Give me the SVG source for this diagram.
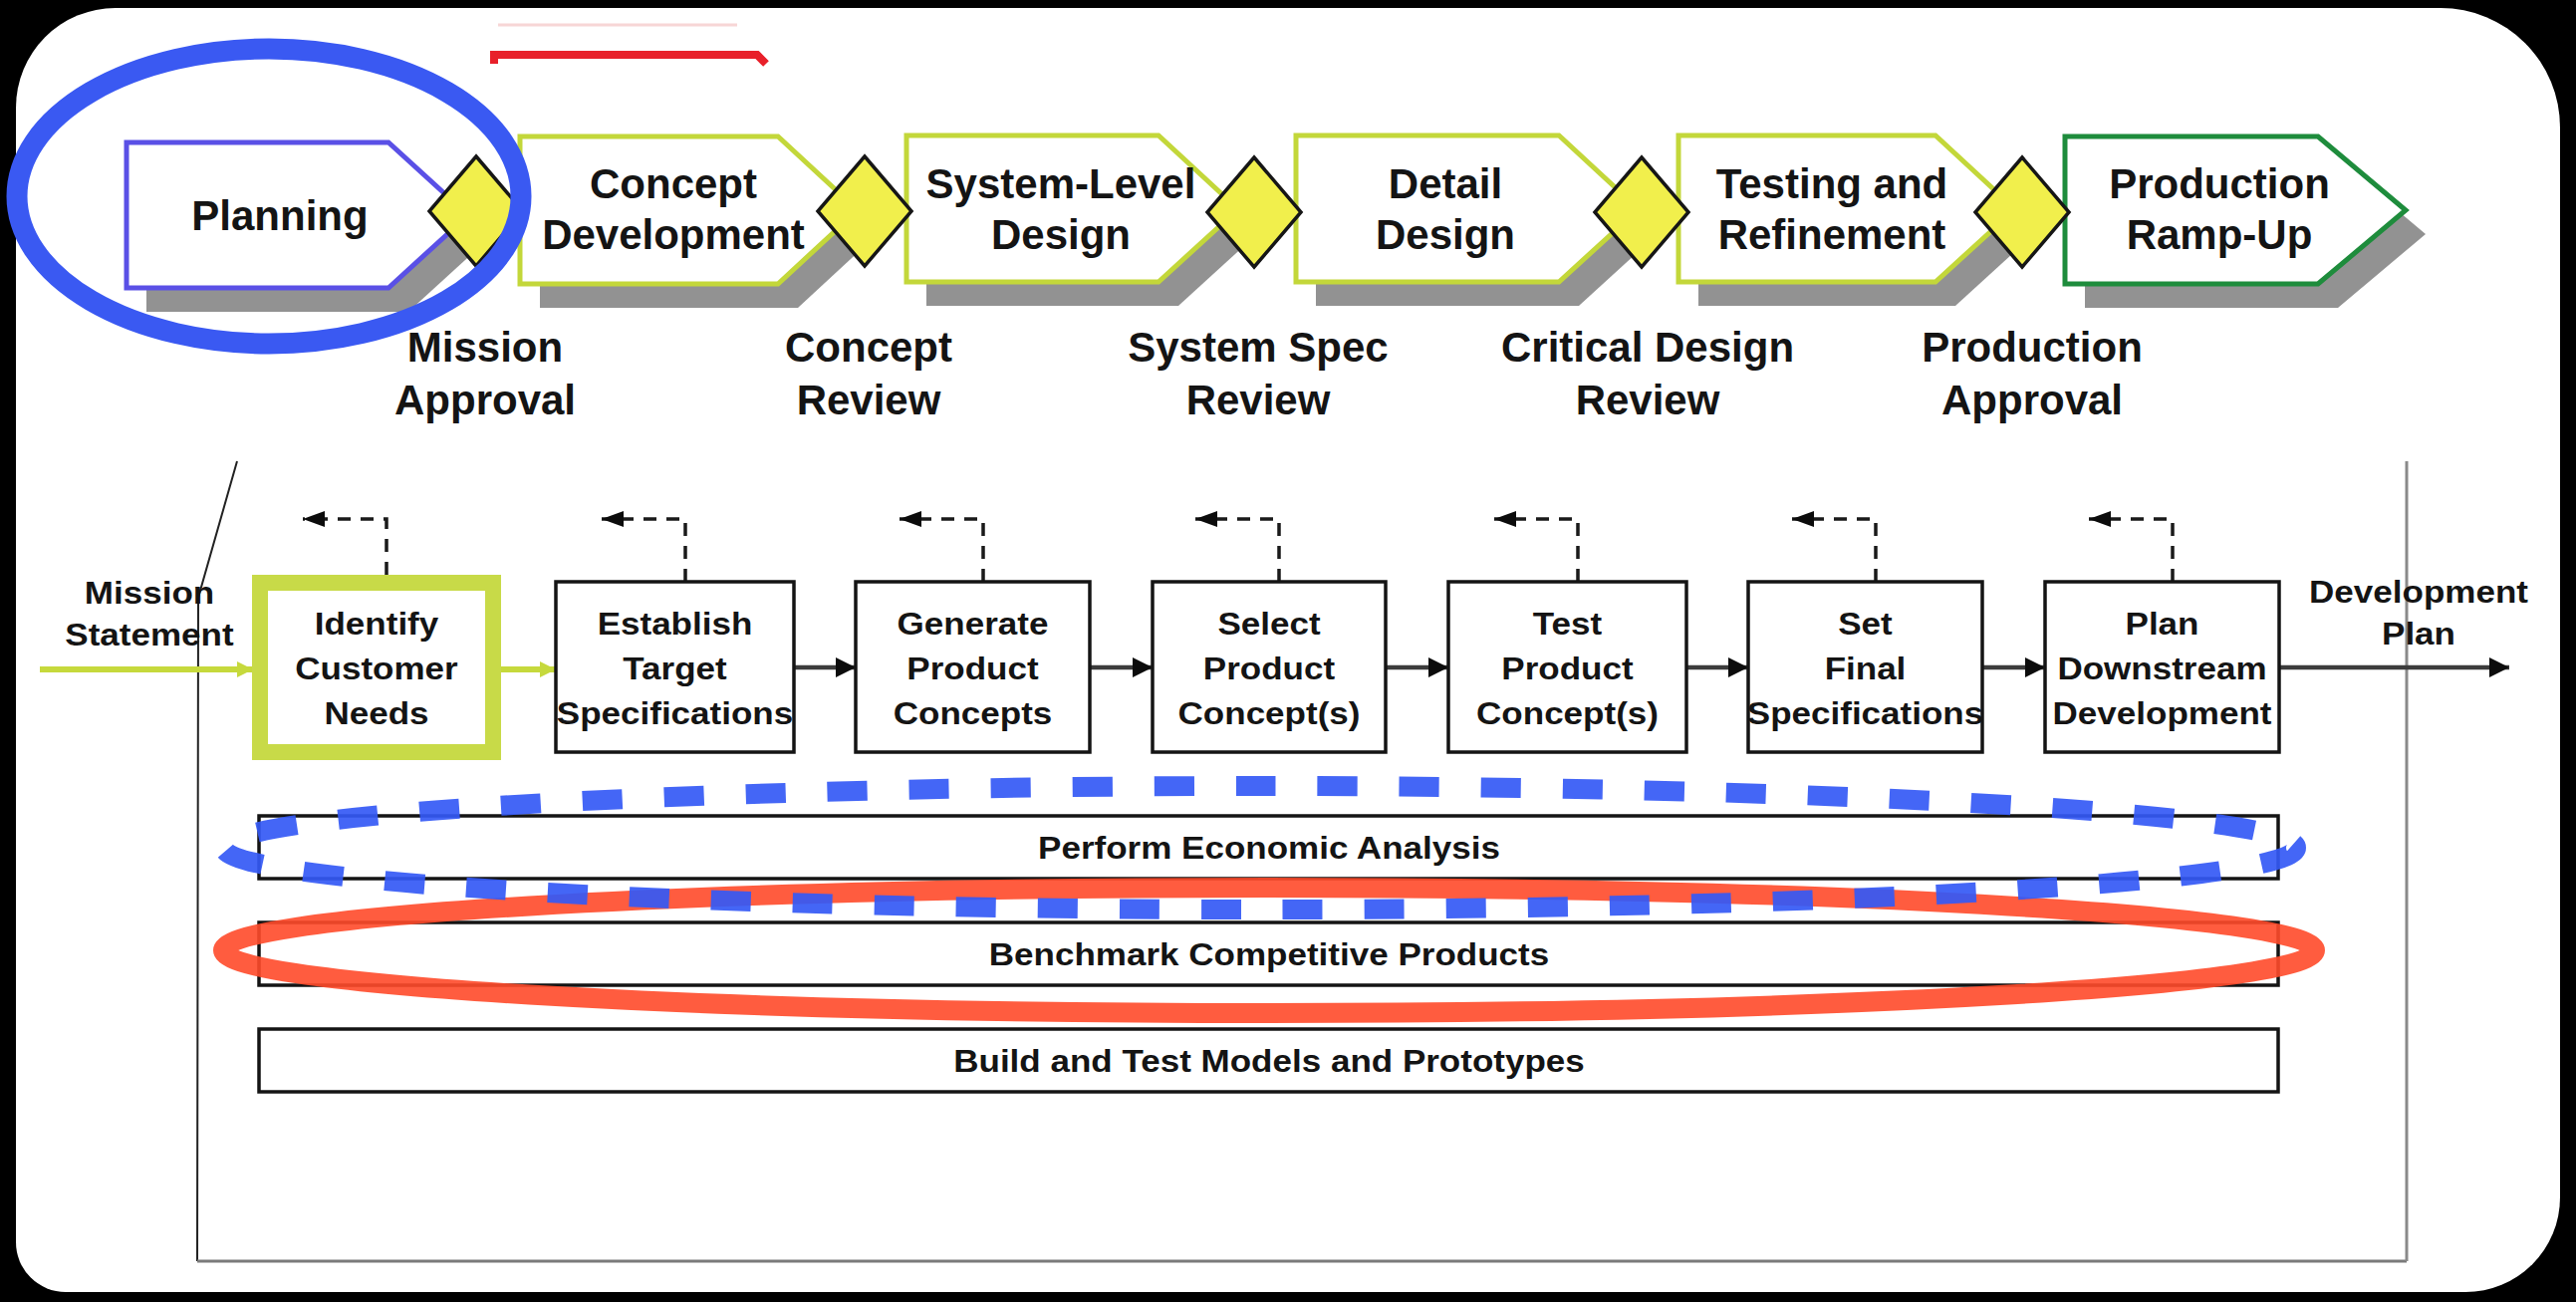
<svg xmlns="http://www.w3.org/2000/svg" width="2586" height="1307" viewBox="0 0 2586 1307">
  <style>
    .lbl { font-family: "Liberation Sans", Arial, sans-serif; font-weight: bold; fill: #141414; text-anchor: middle; }
    .big { font-size: 42px; }
    .small { font-size: 31px; }
    .shadow { fill: #929292; }
    .stage { fill: #ffffff; stroke-width: 5; stroke-linejoin: miter; }
    .green { stroke: #c3d73a; }
    .gate { fill: #f1ef4c; stroke: #161616; stroke-width: 3.5; stroke-linejoin: miter; }
    .box { fill: #ffffff; stroke: #141414; stroke-width: 3.5; }
    .flow { fill: none; stroke: #3c3c3c; stroke-width: 4.5; marker-end: url(#arrowSolid); }
    .loop { fill: none; stroke: #1a1a1a; stroke-width: 3.5; stroke-dasharray: 13 10; marker-end: url(#arrowLoop); }
    .gflow { fill: none; stroke: #c6d93c; stroke-width: 6; marker-end: url(#arrowGreen); }
  </style>
  <defs>
    <marker id="arrowSolid" markerUnits="userSpaceOnUse" markerWidth="22" markerHeight="22" refX="20" refY="10" orient="auto">
      <path d="M0,0 L20,10 L0,20 Z" fill="#0c0c0c"/>
    </marker>
    <marker id="arrowLoop" markerUnits="userSpaceOnUse" markerWidth="24" markerHeight="18" refX="22" refY="8" orient="auto">
      <path d="M0,0 L22,8 L0,16 Z" fill="#0c0c0c"/>
    </marker>
    <marker id="arrowGreen" markerUnits="userSpaceOnUse" markerWidth="18" markerHeight="18" refX="16" refY="8" orient="auto">
      <path d="M0,0 L16,8 L0,16 Z" fill="#c6d93c"/>
    </marker>
  </defs>

  <!-- frame -->
  <rect x="0" y="0" width="2586" height="1307" fill="#000000"/>
  <path d="M116,8 H2450 A120,120 0 0 1 2570,128 V1202 A95,95 0 0 1 2475,1297 H66 A50,50 0 0 1 16,1247 V108 A100,100 0 0 1 116,8 Z" fill="#ffffff"/>

  <!-- clipped red stroke at the top -->
  <line x1="500" y1="25" x2="740" y2="25" stroke="#f7d6d6" stroke-width="3"/>
  <polyline points="496,64 496,55 760,55 769,64" fill="none" stroke="#e8202a" stroke-width="8"/>

  <!-- stage shadows -->
  <g id="stage-shadows">
    <polygon class="shadow" points="147,167 410,167 490,240 410,313 147,313"/>
    <polygon class="shadow" points="542,161 801,161 881,235 801,309 542,309"/>
    <polygon class="shadow" points="930,160 1183,160 1263,234 1183,307 930,307"/>
    <polygon class="shadow" points="1321,160 1585,160 1665,234 1585,307 1321,307"/>
    <polygon class="shadow" points="1705,160 1963,160 2043,234 1963,307 1705,307"/>
    <polygon class="shadow" points="2093,161 2347,161 2435,235 2347,309 2093,309"/>
  </g>

  <g id="stage-planning">
    <polygon class="stage" stroke="#5a50e6" points="127,143 390,143 470,216 390,289 127,289"/>
    <text class="lbl big" x="281" y="231">Planning</text>
  </g>
  <g id="stage-concept-development">
    <polygon class="stage green" points="522,137 781,137 861,211 781,285 522,285"/>
    <text class="lbl big" x="676" y="199">Concept</text>
    <text class="lbl big" x="676" y="250">Development</text>
  </g>
  <g id="stage-system-level-design">
    <polygon class="stage green" points="910,136 1163,136 1243,210 1163,283 910,283"/>
    <text class="lbl big" x="1065" y="199">System-Level</text>
    <text class="lbl big" x="1065" y="250">Design</text>
  </g>
  <g id="stage-detail-design">
    <polygon class="stage green" points="1301,136 1565,136 1645,210 1565,283 1301,283"/>
    <text class="lbl big" x="1451" y="199">Detail</text>
    <text class="lbl big" x="1451" y="250">Design</text>
  </g>
  <g id="stage-testing-refinement">
    <polygon class="stage green" points="1685,136 1943,136 2023,210 1943,283 1685,283"/>
    <text class="lbl big" x="1839" y="199">Testing and</text>
    <text class="lbl big" x="1839" y="250">Refinement</text>
  </g>
  <g id="stage-production-ramp-up">
    <polygon class="stage" stroke="#1e8c3c" points="2073,137 2327,137 2415,211 2327,285 2073,285"/>
    <text class="lbl big" x="2228" y="199">Production</text>
    <text class="lbl big" x="2228" y="250">Ramp-Up</text>
  </g>

  <!-- review gates -->
  <g id="gate-mission-approval">
    <polygon class="gate" points="478,157 525,212 478,267 431,212"/>
    <text class="lbl big" x="487" y="363">Mission</text>
    <text class="lbl big" x="487" y="416">Approval</text>
  </g>
  <g id="gate-concept-review">
    <polygon class="gate" points="868,157 915,212 868,267 821,212"/>
    <text class="lbl big" x="872" y="363">Concept</text>
    <text class="lbl big" x="872" y="416">Review</text>
  </g>
  <g id="gate-system-spec-review">
    <polygon class="gate" points="1259,158 1306,213 1259,268 1212,213"/>
    <text class="lbl big" x="1263" y="363">System Spec</text>
    <text class="lbl big" x="1263" y="416">Review</text>
  </g>
  <g id="gate-critical-design-review">
    <polygon class="gate" points="1648,158 1695,213 1648,268 1601,213"/>
    <text class="lbl big" x="1654" y="363">Critical Design</text>
    <text class="lbl big" x="1654" y="416">Review</text>
  </g>
  <g id="gate-production-approval">
    <polygon class="gate" points="2030,158 2077,213 2030,268 1983,213"/>
    <text class="lbl big" x="2040" y="363">Production</text>
    <text class="lbl big" x="2040" y="416">Approval</text>
  </g>

  <!-- planning-phase detail frame -->
  <g id="detail-frame" fill="none">
    <path d="M238,463 L199,600 L198,1266" stroke="#222222" stroke-width="2"/>
    <path d="M198,1266 H2416" stroke="#7a7a7a" stroke-width="3"/>
    <path d="M2416,463 V1266" stroke="#8a8a8a" stroke-width="3"/>
  </g>

  <!-- connectors -->
  <g id="connectors">
    <path class="gflow" d="M40,672 H254"/>
    <path class="gflow" d="M503,672 H558"/>
    <path class="flow" d="M797,670 H859"/>
    <path class="flow" d="M1094,670 H1157"/>
    <path class="flow" d="M1391,670 H1454"/>
    <path class="flow" d="M1693,670 H1755"/>
    <path class="flow" d="M1990,670 H2053"/>
    <path class="flow" d="M2288,670 H2519"/>
    <path class="loop" d="M388,577 V521 H304"/>
    <path class="loop" d="M688,584 V521 H604"/>
    <path class="loop" d="M987,584 V521 H903"/>
    <path class="loop" d="M1284,584 V521 H1200"/>
    <path class="loop" d="M1584,584 V521 H1500"/>
    <path class="loop" d="M1883,584 V521 H1799"/>
    <path class="loop" d="M2181,584 V521 H2097"/>
  </g>

  <g id="mission-statement">
    <g transform="translate(150,0) scale(1.13,1)">
      <text class="lbl small" x="0" y="606">Mission</text>
      <text class="lbl small" x="0" y="648">Statement</text>
    </g>
  </g>
  <g id="development-plan">
    <g transform="translate(2428,0) scale(1.13,1)">
      <text class="lbl small" x="0" y="605">Development</text>
      <text class="lbl small" x="0" y="647">Plan</text>
    </g>
  </g>

  <!-- planning activities -->
  <g id="identify-customer-needs">
    <rect x="261" y="585" width="234" height="170" fill="#ffffff" stroke="#c8da48" stroke-width="16"/>
    <g transform="translate(378,0) scale(1.13,1)">
      <text class="lbl small" x="0" y="637">Identify</text>
      <text class="lbl small" x="0" y="682">Customer</text>
      <text class="lbl small" x="0" y="727">Needs</text>
    </g>
  </g>
  <g id="establish-target-specifications">
    <rect class="box" x="558" y="584" width="239" height="171"/>
    <g transform="translate(677.5,0) scale(1.13,1)">
      <text class="lbl small" x="0" y="637">Establish</text>
      <text class="lbl small" x="0" y="682">Target</text>
      <text class="lbl small" x="0" y="727">Specifications</text>
    </g>
  </g>
  <g id="generate-product-concepts">
    <rect class="box" x="859" y="584" width="235" height="171"/>
    <g transform="translate(976.5,0) scale(1.13,1)">
      <text class="lbl small" x="0" y="637">Generate</text>
      <text class="lbl small" x="0" y="682">Product</text>
      <text class="lbl small" x="0" y="727">Concepts</text>
    </g>
  </g>
  <g id="select-product-concepts">
    <rect class="box" x="1157" y="584" width="234" height="171"/>
    <g transform="translate(1274,0) scale(1.13,1)">
      <text class="lbl small" x="0" y="637">Select</text>
      <text class="lbl small" x="0" y="682">Product</text>
      <text class="lbl small" x="0" y="727">Concept(s)</text>
    </g>
  </g>
  <g id="test-product-concepts">
    <rect class="box" x="1454" y="584" width="239" height="171"/>
    <g transform="translate(1573.5,0) scale(1.13,1)">
      <text class="lbl small" x="0" y="637">Test</text>
      <text class="lbl small" x="0" y="682">Product</text>
      <text class="lbl small" x="0" y="727">Concept(s)</text>
    </g>
  </g>
  <g id="set-final-specifications">
    <rect class="box" x="1755" y="584" width="235" height="171"/>
    <g transform="translate(1872.5,0) scale(1.13,1)">
      <text class="lbl small" x="0" y="637">Set</text>
      <text class="lbl small" x="0" y="682">Final</text>
      <text class="lbl small" x="0" y="727">Specifications</text>
    </g>
  </g>
  <g id="plan-downstream-development">
    <rect class="box" x="2053" y="584" width="235" height="171"/>
    <g transform="translate(2170.5,0) scale(1.13,1)">
      <text class="lbl small" x="0" y="637">Plan</text>
      <text class="lbl small" x="0" y="682">Downstream</text>
      <text class="lbl small" x="0" y="727">Development</text>
    </g>
  </g>

  <!-- ongoing activities -->
  <g id="perform-economic-analysis">
    <rect class="box" x="260" y="819" width="2027" height="63"/>
    <g transform="translate(1274,0) scale(1.13,1)">
      <text class="lbl small" x="0" y="862">Perform Economic Analysis</text>
    </g>
  </g>
  <g id="benchmark-competitive-products">
    <rect class="box" x="260" y="926" width="2027" height="63"/>
    <g transform="translate(1274,0) scale(1.13,1)">
      <text class="lbl small" x="0" y="969">Benchmark Competitive Products</text>
    </g>
  </g>
  <g id="build-test-models">
    <rect class="box" x="260" y="1033" width="2027" height="63"/>
    <g transform="translate(1274,0) scale(1.13,1)">
      <text class="lbl small" x="0" y="1076">Build and Test Models and Prototypes</text>
    </g>
  </g>

  <!-- hand-drawn highlight marks -->
  <g id="highlights" fill="none">
    <ellipse cx="1274" cy="954" rx="1050" ry="63" stroke="#ff4a2a" stroke-width="20" opacity="0.9"/>
    <ellipse cx="1265" cy="851" rx="1040" ry="62" stroke="#3459f5" stroke-width="20" stroke-dasharray="40 42" opacity="0.92"/>
    <ellipse cx="270" cy="197" rx="253" ry="148" stroke="#3a59f2" stroke-width="21"/>
  </g>
</svg>
